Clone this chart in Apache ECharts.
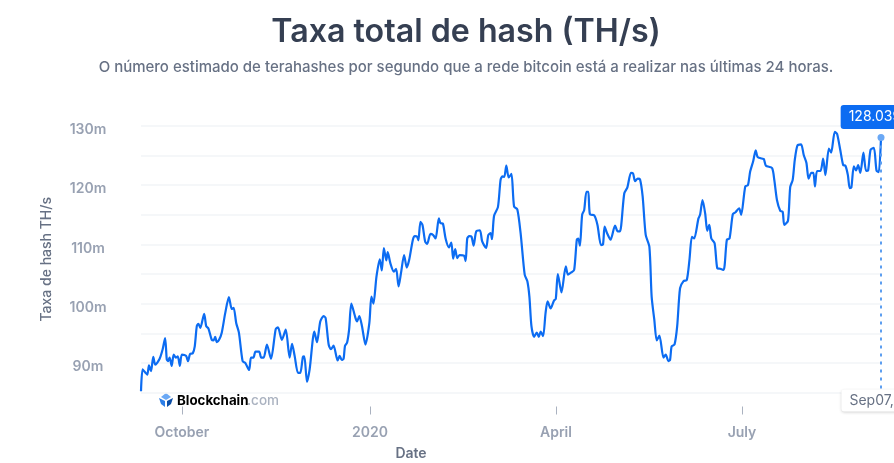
<!DOCTYPE html>
<html>
<head>
	<meta charset="utf-8">
	<title>Taxa total de hash</title>
	<script src="https://cdn.jsdelivr.net/npm/echarts@6/dist/echarts.min.js"></script>
	<style>
		html, body { margin: 0; padding: 0; background: #fff; }
		#chart { width: 894px; height: 463px; }
	</style>
</head>
<body>
<div id="chart"></div>
<script>
	// data: days since the first date, hash rate in millions
	var startDate = '2019-09-11';
	var dayOffsets = [0,0.8,2.3,3.1,3.9,4.9,6,7,9,10.6,11.8,12.6,13.2,14,15,16,17,18,19,20,22,23,24,25.3,26.3,27.3,28.1,29,30.9,31.9,33,34.6,35.5,36.3,37.1,38.2,39.5,41.2,43,44.4,45.3,46.6,47.9,49.7,51,52.9,53.8,55,56,57.8,58.8,60,61.6,63.6,65.9,67,68.9,70.8,72.7,73.9,75.2,76.8,77.9,
		79.2,79.9,81.2,82.5,84.8,86.1,87.7,89.3,90.3,91.8,92.9,94.2,96.2,97.2,98.2,99.1,99.8,100.8,101.8,102.9,104.9,105.7,106.8,108.1,109.8,111.7,112.7,113.7,115.2,116.8,117.8,118.8,120,120.7,122,123.7,124.8,126,127.2,128.7,130,131.2,133,134,135.1,135.7,136.7,137.7,139,140,141.6,142.9,144.1,145.7,146.5,147.7,149,150.6,151.8,152.7,153.7,154.7,155.8,158,158.8,159.6,160.6,161.7,162.7,164,165.8,166.9,168.8,169.9,171,171.7,172.7,174.6,175.9,176.8,177.7,178.7,179.9,181.2,182.5,184.1,185.7,187.7,189,190,191,192.3,193.6,194.6,195.5,196.7,197.9,198.9,200.4,202,202.9,203.9,205.7,207.8,208.9,210.6,211.9,213.2,213.9,214.7,215.8,216.8,217.9,218.8,219.6,221.7,223.3,
		225,226,226.8,228,229.7,231.9,233.2,234.3,236.4,237.9,239.7,240.7,241.7,243,244.1,245.4,246.9,248.7,249.8,251.1,252.3,253.6,255.6,256.7,258,258.8,259.6,261,262.3,263.7,265.4,267,268.3,269.5,270.6,272.7,273.5,274.7,276,277,278,279,280.6,281.9,283.3,285,286.6,287.9,289.5,290.7,292.6,293.6,295.6,296.9,298,299.5,300.7,301.6,303.7,304.7,305.7,308.7,309.8,311.1,312.7,313.9,314.7,316.5,317.6,318.8,319.8,321.1,322.9,324.2,325.5,326.6,327.9,328.9,329.7,330.7,332.4,333.7,334.8,336.5,337.6,339.4,340.5,342.1,343.5,344.6,345.8,346.7,347.5,348.7,349.8,350.8,351.9,353.4,354.7,355.7,356.9,358.5,359.8,360.9,362];
	var hashValues = [85.2,88.9,88.3,88,89.6,88.6,91,89.7,90.6,92.3,94.2,90.6,90.3,90.9,89.5,91.4,90.9,91.1,89.5,91.4,91.2,90.3,91.5,91.6,92.8,96.2,96.6,95.9,98.3,96.2,95.8,93.9,93.8,94.4,93.5,93.9,95.1,98.4,101.1,99.1,99.3,96.7,95.1,90.3,90,88.8,90.9,90.9,91.9,91.9,90.9,90.9,93.1,90.7,95.7,96,93.9,95.6,90.9,93.2,91.1,88.3,88.3,
		91,91.1,86.8,88.9,95.3,93.5,97,97.9,97.6,93.1,92.3,92.9,90.4,91.2,90.5,90.7,92.9,93.4,95.6,100,97.6,97,97.9,96.2,93.1,96.7,101.2,100,104.6,107.5,105.6,109.4,107.3,108.7,106.8,105.4,105.9,102.9,105.2,108.2,106.1,107.4,110.8,111.4,111.3,110.7,113.8,113.3,110.5,110.1,111.8,111.6,111,114.4,113.6,113.5,111,109.5,110.3,107.6,109.2,107.7,108.2,108.1,107.2,111,111.4,111.3,109.8,112.2,112.4,110.5,109.4,111.6,111.9,110.9,114.8,116.3,120.9,121.5,121.4,123.3,121.3,121.9,116.4,115.9,111.9,104.9,103.8,101.2,96.2,94.4,95.1,94.4,95.3,94.5,98.4,100.4,99.2,100.5,100.8,105,101.9,106.3,104.9,105.3,105.7,110.8,111,109.8,115,115.8,118.9,118.9,115.1,114.9,113.3,
		109.9,110,113,111.9,110.8,113.2,112.2,112.2,118.6,119.6,122.1,122,120.7,121.1,121,118.1,111.6,109.6,101.2,97.3,93.8,94.6,90.9,91.4,90.3,90.5,92.8,93.1,96.2,102.6,103.8,104,107.4,111.3,111,114.4,115,117.5,115.2,112.3,113.3,111,110.2,106,105.9,105.7,110.8,111,115.1,115.4,116.1,115,119.8,120,122.3,124.1,125.9,124.8,124.5,124.4,123.3,122.9,120.9,117.5,115.7,115.5,113.3,114,119.7,120.9,124.2,126.7,126.9,125.1,123.8,121.1,122.1,122.1,119.8,122.4,122.4,124.5,121.7,126.2,125.5,129,128.7,125.9,123.4,123.3,121.7,119.5,119.6,123.2,122.5,123.4,122.1,125.5,122.4,122.5,126,126.3,122.5,122.2,128.04];
	var tickDates = ['2019-10-01', '2020-01-01', '2020-04-01', '2020-07-01'];
	var tickNames = ['October', '2020', 'April', 'July'];
	var lastValueText = '128.039m';
	var lastDateText = 'Sep07, 2020';

	var DAY = 86400000;
	function toTime(s) { return new Date(s + 'T00:00:00').getTime(); }
	var startTime = toTime(startDate);
	var tickTimes = tickDates.map(toTime);
	var seriesData = dayOffsets.map(function (d, i) {
		return [startTime + d * DAY, hashValues[i]];
	});
	var lastPoint = seriesData[seriesData.length - 1];

	var blue = '#0c6cf2';
	var font = 'Inter';

	var myChart = echarts.init(document.getElementById('chart'));
	var option = {
		animation: false,
		backgroundColor: '#fff',
		textStyle: { fontFamily: font },
		title: [
			{
				text: 'Taxa total de hash (TH/s)',
				left: 461, top: 11, textAlign: 'center',
				textStyle: { fontFamily: font, fontSize: 32.2, fontWeight: 600, color: '#353f52' }
			},
			{
				text: 'O número estimado de terahashes por segundo que a rede bitcoin está a realizar nas últimas 24 horas.',
				left: 461, top: 55, textAlign: 'center',
				textStyle: { fontFamily: font, fontSize: 15, fontWeight: 500, color: '#677184' }
			}
		],
		grid: { left: 141, right: 13, top: 126, bottom: 70.5, outerBoundsMode: 'none' },
		xAxis: {
			// value axis on timestamps, the time axis breaks on customValues
			type: 'value',
			min: startTime,
			max: lastPoint[0],
			offset: 14,
			name: 'Date',
			nameLocation: 'middle',
			nameGap: 40,
			nameTextStyle: { fontFamily: font, fontSize: 14, fontWeight: 600, color: '#677184', padding: [0, 200, 0, 0] },
			axisLine: { show: false },
			axisTick: { show: true, length: 8, customValues: tickTimes, lineStyle: { color: '#aab2c0' } },
			axisLabel: {
				customValues: tickTimes,
				margin: 19,
				fontFamily: font, fontSize: 14, fontWeight: 600, color: '#98a1b2',
				formatter: function (v) { return tickNames[tickTimes.indexOf(v)] || ''; }
			},
			splitLine: { show: false }
		},
		yAxis: {
			type: 'value',
			min: 85,
			max: 130,
			interval: 5,
			name: 'Taxa de hash TH/s',
			nameLocation: 'middle',
			nameGap: 87,
			nameTextStyle: { fontFamily: font, fontSize: 14, fontWeight: 500, color: '#677184' },
			axisLine: { show: false },
			axisTick: { show: false },
			axisLabel: {
				margin: 53,
				align: 'center',
				verticalAlign: 'top',
				lineHeight: 8,
				fontFamily: font, fontSize: 14, fontWeight: 600, color: '#98a1b2',
				formatter: function (v) { return v % 10 === 0 ? v + 'm' : ''; }
			},
			splitLine: { show: true, lineStyle: { color: '#f2f4f7', width: 1.5 } }
		},
		series: [
			{
				type: 'line',
				data: seriesData,
				showSymbol: false,
				smooth: 0.25,
				clip: false,
				lineStyle: { color: blue, width: 2.2 },
				markLine: {
					silent: true,
					symbol: 'none',
					label: { show: false },
					lineStyle: { color: '#5c9ef0', type: [3, 5], width: 2 },
					data: [[{ coord: lastPoint }, { coord: [lastPoint[0], 85] }]]
				},
				markPoint: {
					silent: true,
					data: [
						{
							coord: lastPoint,
							symbol: 'circle',
							symbolSize: 7,
							itemStyle: { color: '#6aa8f5' },
							label: {
								show: true,
								position: 'top',
								distance: 5,
								formatter: lastValueText,
								color: '#fff',
								fontFamily: font,
								fontSize: 14,
								backgroundColor: blue,
								borderRadius: 3,
								padding: [5, 8, 5, 8]
							}
						},
						{
							coord: [lastPoint[0], 85],
							symbol: 'circle',
							symbolSize: 0,
							label: {
								show: true,
								position: 'bottom',
								distance: -3,
								offset: [10, 0],
								formatter: lastDateText,
								color: '#677184',
								fontFamily: font,
								fontSize: 14,
								backgroundColor: '#fff',
								borderRadius: 3,
								padding: [4, 8, 4, 8],
								shadowColor: 'rgba(0,0,0,0.18)',
								shadowBlur: 3,
								shadowOffsetY: 1
							}
						}
					]
				}
			}
		],
		graphic: [
			// Blockchain.com watermark
			{ type: 'polygon', shape: { points: [[166, 393], [171, 397], [166, 400], [161, 397]] }, style: { fill: '#6aa8f5' } },
			{ type: 'polygon', shape: { points: [[159, 398], [165, 401], [165, 407], [161, 404]] }, style: { fill: '#2d7fe8' } },
			{ type: 'polygon', shape: { points: [[173, 398], [167, 401], [167, 407], [171, 404]] }, style: { fill: '#0c4fa8' } },
			{ type: 'text', left: 177, top: 394, style: { text: 'Blockchain', fontFamily: font, fontSize: 13.3, fontWeight: 700, fill: '#000' } },
			{ type: 'text', left: 247, top: 394, style: { text: '.com', fontFamily: font, fontSize: 13.5, fontWeight: 500, fill: '#aab2c0' } }
		]
	};
	myChart.setOption(option);
</script>
</body>
</html>
